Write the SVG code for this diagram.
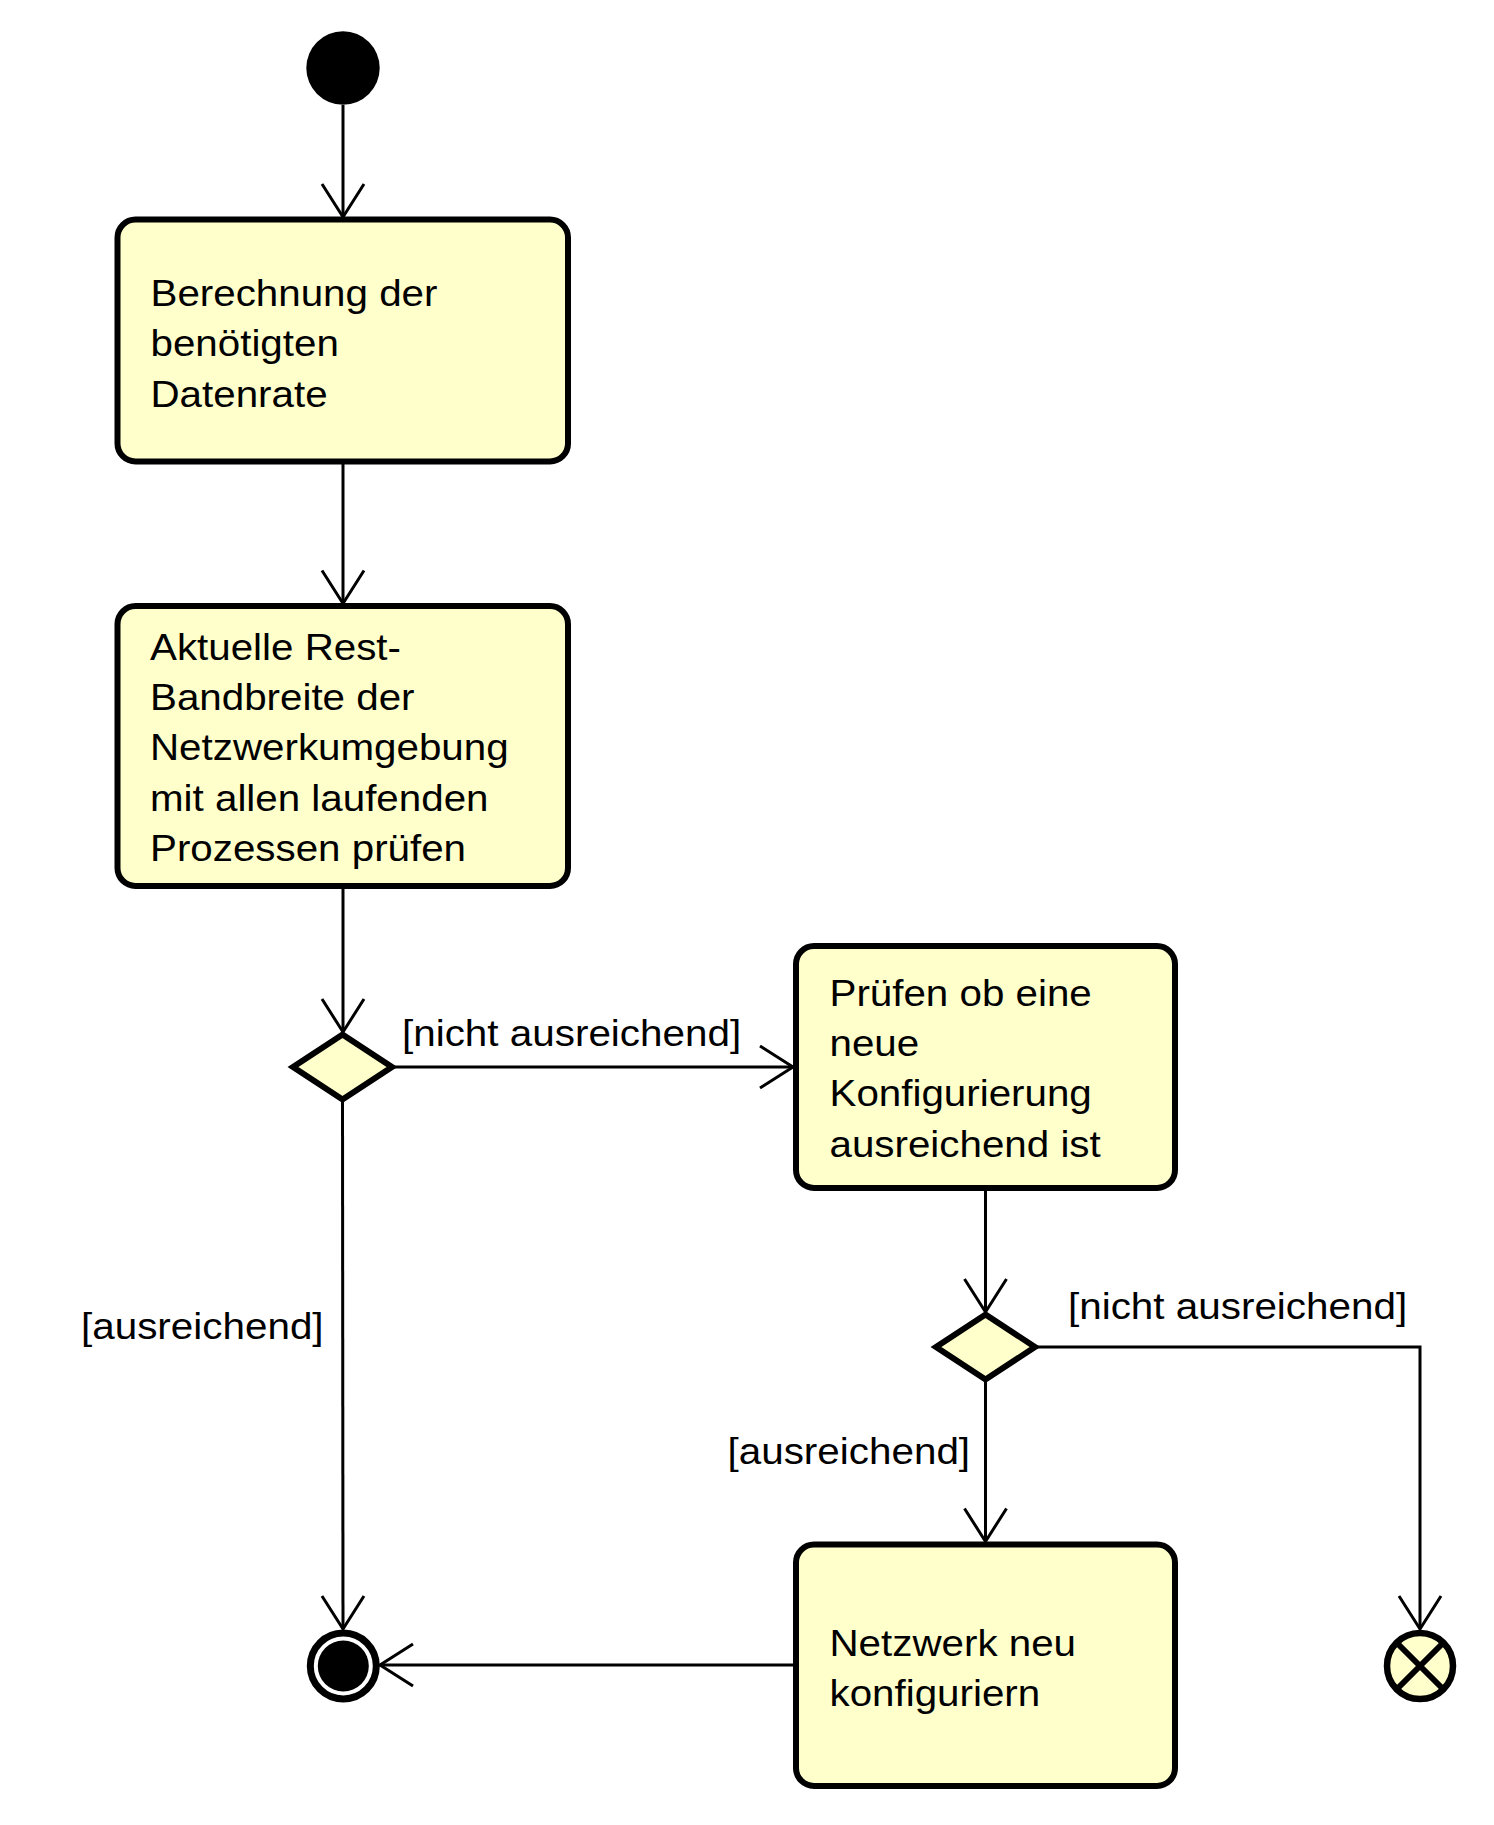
<svg xmlns="http://www.w3.org/2000/svg" width="1494" height="1825" viewBox="0 0 1494 1825">
<style>
.node{fill:#FFFFCC;stroke:#000;stroke-width:6}
.conn{fill:none;stroke:#000;stroke-width:3}
.t{font-family:"Liberation Sans",Arial,sans-serif;font-size:36.5px;fill:#000}
</style>
<defs>
<marker id="arr" markerUnits="userSpaceOnUse" markerWidth="44" markerHeight="52" viewBox="-38 -26 44 52" refX="0" refY="0" orient="auto" overflow="visible">
<path d="M-33,-21 L0,0 L-33,21" fill="none" stroke="#000" stroke-width="3"/>
</marker>
</defs>
<rect width="1494" height="1825" fill="#fff"/>
<g id="connectors">
<path class="conn" d="M343,105 L343,217" marker-end="url(#arr)"/>
<path class="conn" d="M343,462 L343,603.5" marker-end="url(#arr)"/>
<path class="conn" d="M343,886 L343,1032" marker-end="url(#arr)"/>
<path class="conn" d="M392,1067 L793,1067" marker-end="url(#arr)"/>
<path class="conn" d="M342.5,1101 L343,1629" marker-end="url(#arr)"/>
<path class="conn" d="M985.5,1188 L985.5,1312" marker-end="url(#arr)"/>
<path class="conn" d="M985.5,1382 L985.5,1541.5" marker-end="url(#arr)"/>
<path class="conn" d="M1035,1347 L1420,1347 L1420,1629" marker-end="url(#arr)"/>
<path class="conn" d="M796,1665 L380,1665" marker-end="url(#arr)"/>
<text class="t" transform="translate(402 1046) scale(1.107 1)">[nicht ausreichend]</text>
<text class="t" transform="translate(81 1339) scale(1.107 1)">[ausreichend]</text>
<text class="t" transform="translate(1068 1319) scale(1.107 1)">[nicht ausreichend]</text>
<text class="t" transform="translate(727.5 1464) scale(1.107 1)">[ausreichend]</text>
</g>
<g id="start">
<circle cx="343" cy="68" r="36.7" fill="#000"/>
</g>
<g id="box1">
<rect class="node" x="117.5" y="219.5" width="450.5" height="242" rx="18"/>
<text class="t" transform="translate(150.5 306) scale(1.105 1)"><tspan x="0" y="0">Berechnung der</tspan><tspan x="0" y="50.5">benötigten</tspan><tspan x="0" y="101">Datenrate</tspan></text>
</g>
<g id="box2">
<rect class="node" x="117.5" y="606" width="450.5" height="280" rx="18"/>
<text class="t" transform="translate(150 659.5) scale(1.105 1)"><tspan x="0" y="0">Aktuelle Rest-</tspan><tspan x="0" y="50.5">Bandbreite der</tspan><tspan x="0" y="101">Netzwerkumgebung</tspan><tspan x="0" y="151.5">mit allen laufenden</tspan><tspan x="0" y="202">Prozessen prüfen</tspan></text>
</g>
<g id="decision1">
<polygon class="node" points="342.5,1034.5 392,1067 342.5,1099.5 293,1067"/>
</g>
<g id="box3">
<rect class="node" x="796" y="946" width="379" height="242" rx="18"/>
<text class="t" transform="translate(829.5 1005.5) scale(1.105 1)"><tspan x="0" y="0">Prüfen ob eine</tspan><tspan x="0" y="50.5">neue</tspan><tspan x="0" y="101">Konfigurierung</tspan><tspan x="0" y="151.5">ausreichend ist</tspan></text>
</g>
<g id="decision2">
<polygon class="node" points="985.5,1314.5 1035,1347 985.5,1379.5 936,1347"/>
</g>
<g id="box4">
<rect class="node" x="796" y="1544.5" width="379" height="241.5" rx="18"/>
<text class="t" transform="translate(829.5 1656) scale(1.105 1)"><tspan x="0" y="0">Netzwerk neu</tspan><tspan x="0" y="50">konfiguriern</tspan></text>
</g>
<g id="end">
<circle cx="343.3" cy="1666" r="33" fill="#fff" stroke="#000" stroke-width="7"/>
<circle cx="343.3" cy="1666" r="25.5" fill="#000"/>
</g>
<g id="flowfinal">
<circle cx="1420" cy="1666" r="33" fill="#FFFFCC" stroke="#000" stroke-width="6.5"/>
<path d="M1397,1643 L1443,1689 M1443,1643 L1397,1689" stroke="#000" stroke-width="6" fill="none"/>
</g>
</svg>
